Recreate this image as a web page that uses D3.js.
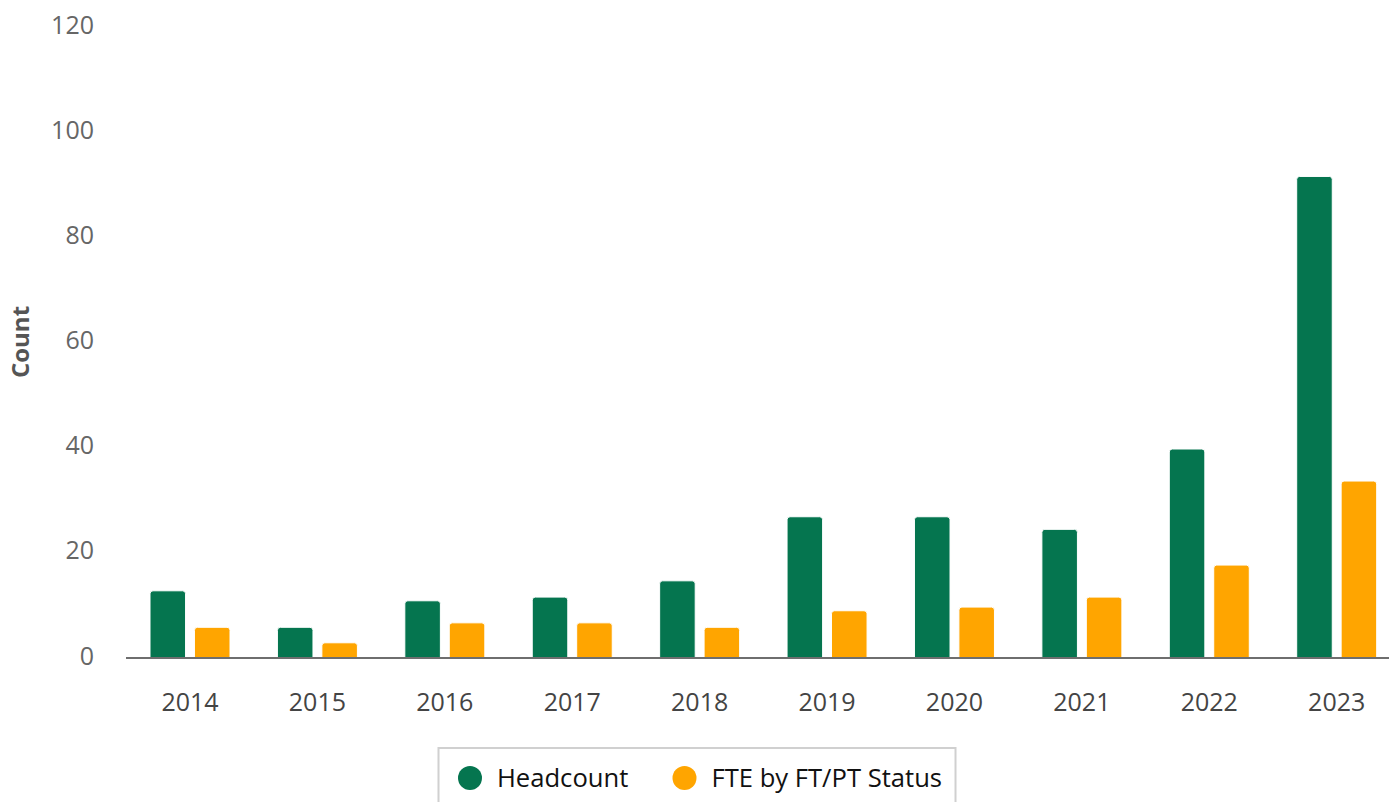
<!DOCTYPE html>
<html>
<head>
<meta charset="utf-8">
<script src="https://cdn.jsdelivr.net/npm/d3@7"></script>
<style>
  body { margin: 0; background: #fff; }
  svg { display: block; font-family: "Open Sans", sans-serif; }
</style>
</head>
<body>
<svg width="1389" height="802"></svg>
<script>
const YEARS = ['2014','2015','2016','2017','2018','2019','2020','2021','2022','2023'];
const HEADCOUNT = [12.7, 5.75, 10.8, 11.5, 14.6, 26.8, 26.8, 24.4, 39.7, 91.6];
const FTE = [5.75, 2.8, 6.6, 6.6, 5.75, 8.9, 9.6, 11.5, 17.6, 33.6];
const SERIES = ['Headcount', 'FTE by FT/PT Status'];
const COLORS = ['#05754f', '#ffa500'];
const Y_TICKS = [0, 20, 40, 60, 80, 100, 120];

const rows = YEARS.map((y, i) => ({ year: y, vals: [HEADCOUNT[i], FTE[i]] }));

const svg = d3.select('svg');

const x = d3.scaleBand()
  .domain(YEARS)
  .range([126.3, 1400.4]);

const x1 = d3.scaleBand()
  .domain(d3.range(SERIES.length))
  .range([0, 80])
  .paddingInner(0.2);

const y = d3.scaleLinear()
  .domain([0, 120])
  .range([657.5, 27.3]);

// top-rounded bar
function barPath(x0, w, y0, y1, r) {
  r = Math.min(r, (y1 - y0));
  return `M${x0},${y1}V${y0 + r}Q${x0},${y0} ${x0 + r},${y0}H${x0 + w - r}Q${x0 + w},${y0} ${x0 + w},${y0 + r}V${y1}Z`;
}

const groups = svg.selectAll('.grp')
  .data(rows)
  .enter()
  .append('g')
  .attr('class', 'grp')
  .attr('transform', d => `translate(${x(d.year) + x.bandwidth() / 2 - 40},0)`);

groups.selectAll('path')
  .data(d => d.vals.map((v, i) => ({ v, i })))
  .enter()
  .append('path')
  .attr('d', d => barPath(x1(d.i), x1.bandwidth(), y(d.v), y(0), 3))
  .attr('fill', d => COLORS[d.i])
  .attr('stroke', '#fff')
  .attr('stroke-width', 1);

// y axis labels
const yAxis = d3.axisLeft(y).tickValues(Y_TICKS).tickSize(0).tickPadding(0);
svg.append('g')
  .attr('transform', 'translate(94,-1.5)')
  .call(yAxis)
  .call(g => g.select('.domain').remove())
  .call(g => g.selectAll('text')
    .attr('fill', '#666')
    .style('font-size', '25px')
    .style('font-family', '"Open Sans", sans-serif'));

// x axis
const xAxis = d3.axisBottom(x).tickSize(0).tickPadding(0);
svg.append('g')
  .attr('transform', 'translate(0,657.5)')
  .call(xAxis)
  .call(g => g.select('.domain').remove())
  .call(g => g.selectAll('text')
    .attr('fill', '#444')
    .attr('dy', null)
    .attr('y', 53)
    .style('font-size', '25px')
    .style('font-family', '"Open Sans", sans-serif'));

svg.append('line')
  .attr('x1', 126).attr('x2', 1389)
  .attr('y1', 658).attr('y2', 658)
  .attr('stroke', '#6e6e6e')
  .attr('stroke-width', 2);

// axis title
svg.append('text')
  .attr('transform', 'translate(29,342) rotate(-90)')
  .attr('text-anchor', 'middle')
  .attr('fill', '#555')
  .style('font-size', '24px')
  .style('font-weight', 'bold')
  .text('Count');

// legend
const legend = svg.append('g');
legend.append('rect')
  .attr('x', 438.5).attr('y', 748)
  .attr('width', 517).attr('height', 80)
  .attr('fill', '#fff')
  .attr('stroke', '#d0d0d0')
  .attr('stroke-width', 2);

const legX = [470, 684.5];
const items = legend.selectAll('.item')
  .data(SERIES)
  .enter()
  .append('g')
  .attr('transform', (d, i) => `translate(${legX[i]},778)`);

items.append('circle')
  .attr('r', 12)
  .attr('fill', (d, i) => COLORS[i]);

items.append('text')
  .attr('x', 27)
  .attr('y', 9)
  .attr('fill', '#111')
  .style('font-size', '25.6px')
  .text(d => d);
</script>
</body>
</html>
